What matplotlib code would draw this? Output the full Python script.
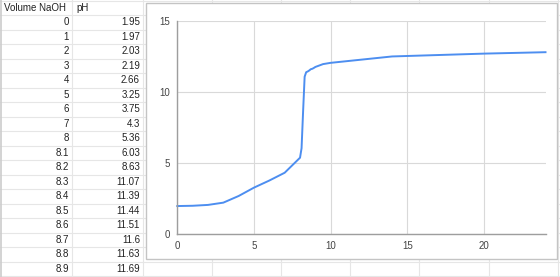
import matplotlib
matplotlib.use("Agg")
import matplotlib.pyplot as plt
from matplotlib.patches import Rectangle

volume = [0, 1, 2, 3, 4, 5, 6, 7, 8, 8.1, 8.2, 8.3, 8.4, 8.5, 8.6, 8.7, 8.8, 8.9,
          9, 9.5, 10, 14, 20, 24]
ph = [1.95, 1.97, 2.03, 2.19, 2.66, 3.25, 3.75, 4.3, 5.36, 6.03, 8.63, 11.07,
      11.39, 11.44, 11.51, 11.6, 11.63, 11.69, 11.76, 11.96, 12.05, 12.5, 12.7, 12.8]
table_labels = ["0", "1", "2", "3", "4", "5", "6", "7", "8", "8.1", "8.2", "8.3",
                "8.4", "8.5", "8.6", "8.7", "8.8", "8.9"]
table_ph = ["1.95", "1.97", "2.03", "2.19", "2.66", "3.25", "3.75", "4.3", "5.36",
            "6.03", "8.63", "11.07", "11.39", "11.44", "11.51", "11.6", "11.63", "11.69"]
headers = ["Volume NaOH", "pH"]
x_ticks = [0, 5, 10, 15, 20]
y_ticks = [0, 5, 10, 15]

W, H = 560, 277
fig = plt.figure(figsize=(W / 100, H / 100), dpi=100)
plt.rcParams['font.family'] = ['Liberation Sans', 'DejaVu Sans']

# spreadsheet background in pixel coordinates
bg = fig.add_axes([0, 0, 1, 1])
bg.set_xlim(0, W)
bg.set_ylim(H, 0)
bg.axis('off')

grid_c = '#e6e6e6'
row_h = 14.5
row_top = 0.5
n_rows = 20
for i in range(n_rows):
    y = row_top + i * row_h
    bg.plot([0, W], [y, y], color=grid_c, lw=0.8)
col_x = [0, 72, 143, 212, 281, 350, 419, 489, 558]
for x in col_x[1:]:
    bg.plot([x, x], [0, H], color=grid_c, lw=0.8)
bg.plot([0.8, 0.8], [0, H], color='#cccccc', lw=1.2)

fs = 7.0
tc = '#222222'
bg.text(4, row_top + row_h / 2, headers[0], fontsize=fs, color=tc, va='center', ha='left')
bg.text(76, row_top + row_h / 2, headers[1], fontsize=fs, color=tc, va='center', ha='left')
for i, (a, b) in enumerate(zip(table_labels, table_ph)):
    yc = row_top + (i + 1.5) * row_h
    bg.text(69, yc, a, fontsize=fs, color=tc, va='center', ha='right')
    bg.text(140, yc, b, fontsize=fs, color=tc, va='center', ha='right')

# chart panel
bg.add_patch(Rectangle((146, 3), 411, 256, facecolor='white', edgecolor='#c4c4c4', lw=1.0, zorder=5))

# chart axes
x0, x1 = 177.3, 545.5
y0, y1 = 21.0, 233.7
ax = fig.add_axes([x0 / W, 1 - y1 / H, (x1 - x0) / W, (y1 - y0) / H], zorder=10)
ax.set_facecolor('none')
ax.plot(volume, ph, color='#4d8ef0', lw=1.4, solid_joinstyle='round', clip_on=False)
ax.set_xlim(0, 24)
ax.set_ylim(0, 15)
ax.set_xticks(x_ticks)
ax.set_yticks(y_ticks)
ax.grid(True, color='#d9d9d9', lw=0.8)
ax.set_axisbelow(True)
for s in ['top', 'right']:
    ax.spines[s].set_visible(False)
for s in ['left', 'bottom']:
    ax.spines[s].set_color('#9e9e9e')
    ax.spines[s].set_linewidth(1.0)
ax.tick_params(length=0, labelsize=7, labelcolor='#444444', pad=5)

fig.savefig('out.png', dpi=100)
